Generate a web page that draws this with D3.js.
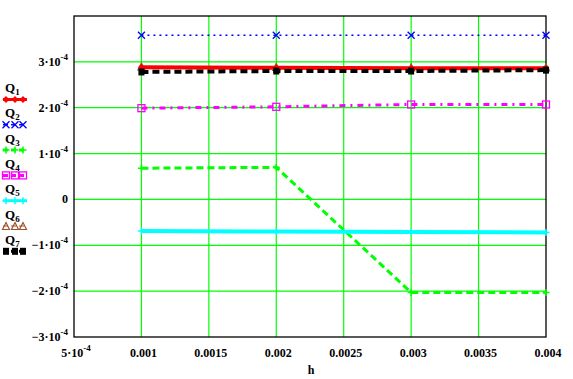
<!DOCTYPE html>
<html><head><meta charset="utf-8">
<script src="https://cdn.jsdelivr.net/npm/d3@7"></script>
<style>body{margin:0;background:#fff}text{font-family:"Liberation Serif",serif;font-weight:bold;fill:#000}</style>
</head><body><svg id="c" width="573" height="379"></svg>
<script>
// ---- data ----
const hValues = [0.001, 0.002, 0.003, 0.004];
const Q1 = [2.88e-4, 2.87e-4, 2.86e-4, 2.86e-4];
const Q2 = [3.58e-4, 3.58e-4, 3.58e-4, 3.58e-4];
const Q3 = [0.68e-4, 0.70e-4, -2.03e-4, -2.03e-4];
const Q4 = [1.99e-4, 2.02e-4, 2.07e-4, 2.07e-4];
const Q5 = [-0.69e-4, -0.70e-4, -0.71e-4, -0.72e-4];
const Q6 = [2.90e-4, 2.89e-4, 2.88e-4, 2.88e-4];
const Q7 = [2.78e-4, 2.80e-4, 2.80e-4, 2.82e-4];
const seriesNames = ["1","2","3","4","5","6","7"];
const xTickValues = [0.0005, 0.001, 0.0015, 0.002, 0.0025, 0.003, 0.0035, 0.004];
const xTickLabels = ["5·10|-4", "0.001", "0.0015", "0.002", "0.0025", "0.003", "0.0035", "0.004"];
const yTickValues = [3e-4, 2e-4, 1e-4, 0, -1e-4, -2e-4, -3e-4];
const yTickLabels = ["3·10|-4", "2·10|-4", "1·10|-4", "0", "−1·10|-4", "−2·10|-4", "−3·10|-4"];
const xLabel = "h";

// ---- styles ----
const styles = [
  {data: Q1, color: "#ff0000", width: 4, dash: null, marker: "diamond"},
  {data: Q2, color: "#0000ff", width: 1.5, dash: "2,4", marker: "x"},
  {data: Q3, color: "#00ff00", width: 3, dash: "7,4", marker: "plus"},
  {data: Q4, color: "#ff00ff", width: 3, dash: "6,5,2,5", marker: "square"},
  {data: Q5, color: "#00ffff", width: 4, dash: null, marker: "plus"},
  {data: Q6, color: "#a0522d", width: 1, dash: "1,3", marker: "triangle"},
  {data: Q7, color: "#000000", width: 4, dash: "7,4", marker: "fsquare"}
];
const drawOrder = [5, 0, 1, 2, 3, 4, 6];

const svg = d3.select("#c");
const L = 74, R = 546, T = 16, B = 337;
const x = d3.scaleLinear().domain([0.0005, 0.004]).range([L, R]);
const y = d3.scaleLinear().domain([-3e-4, 4e-4]).range([B, T]);

// grid
const g = svg.append("g");
g.selectAll(".vg").data(xTickValues.slice(1, -1)).enter().append("line")
  .attr("x1", d => x(d)).attr("x2", d => x(d)).attr("y1", T).attr("y2", B)
  .attr("stroke", "#00ff00").attr("stroke-width", 1.2);
g.selectAll(".hg").data(yTickValues.slice(0, -1)).enter().append("line")
  .attr("x1", L).attr("x2", R).attr("y1", d => y(d)).attr("y2", d => y(d))
  .attr("stroke", "#00ff00").attr("stroke-width", 1.2);

// frame
svg.append("rect").attr("x", L).attr("y", T).attr("width", R - L).attr("height", B - T)
  .attr("fill", "none").attr("stroke", "#000").attr("stroke-width", 1.3);

function drawLabel(sel, str, xp, yp, anchor) {
  const parts = str.split("|");
  const t = sel.append("text").attr("x", xp).attr("y", yp).attr("font-size", 12).attr("text-anchor", anchor);
  t.append("tspan").text(parts[0]);
  if (parts[1]) t.append("tspan").attr("dy", -6).attr("font-size", 9).text(parts[1]);
  return t;
}
// y tick labels
yTickValues.forEach((v, i) => drawLabel(svg, yTickLabels[i], 68, y(v) + 4, "end"));
// x tick labels
xTickValues.forEach((v, i) => drawLabel(svg, xTickLabels[i], x(v) + 2, 357, "middle"));
svg.append("text").attr("x", 311).attr("y", 374).attr("font-size", 12).attr("text-anchor", "middle").text(xLabel);

function marker(sel, type, cx, cy, color) {
  const s = 3.5;
  if (type === "diamond") sel.append("path").attr("d", `M${cx},${cy-s}L${cx+s},${cy}L${cx},${cy+s}L${cx-s},${cy}Z`).attr("fill", color);
  else if (type === "x") sel.append("path").attr("d", `M${cx-s},${cy-s}L${cx+s},${cy+s}M${cx-s},${cy+s}L${cx+s},${cy-s}`).attr("stroke", color).attr("stroke-width", 1.3);
  else if (type === "plus") sel.append("path").attr("d", `M${cx-s},${cy}L${cx+s},${cy}M${cx},${cy-s}L${cx},${cy+s}`).attr("stroke", color).attr("stroke-width", 1.5);
  else if (type === "square") sel.append("rect").attr("x", cx-s).attr("y", cy-s).attr("width", 2*s).attr("height", 2*s).attr("fill", "none").attr("stroke", color).attr("stroke-width", 1.3);
  else if (type === "triangle") sel.append("path").attr("d", `M${cx},${cy-s}L${cx+s},${cy+s}L${cx-s},${cy+s}Z`).attr("fill", "none").attr("stroke", color).attr("stroke-width", 1.2);
  else if (type === "fsquare") sel.append("rect").attr("x", cx-3).attr("y", cy-3.5).attr("width", 6).attr("height", 7).attr("fill", color);
}

const line = d3.line().x((d, i) => x(hValues[i])).y(d => y(d));
drawOrder.forEach(k => {
  const st = styles[k];
  const gg = svg.append("g");
  gg.append("path").attr("d", line(st.data)).attr("fill", "none").attr("stroke", st.color)
    .attr("stroke-width", st.width).attr("stroke-dasharray", st.dash);
  st.data.forEach((v, i) => marker(gg, st.marker, x(hValues[i]), y(v), st.color));
});

// legend
styles.forEach((st, k) => {
  const ly = 92 + k * 25.3;
  const t = svg.append("text").attr("x", 5).attr("y", ly).attr("font-size", 13);
  t.append("tspan").text("Q");
  t.append("tspan").attr("dy", 3).attr("font-size", 9).text(seriesNames[k]);
  const sy = ly + 7.5;
  const lg = svg.append("g");
  lg.append("line").attr("x1", 3).attr("x2", 27).attr("y1", sy).attr("y2", sy).attr("stroke", st.color)
    .attr("stroke-width", Math.min(st.width, 3)).attr("stroke-dasharray", st.dash ? "5,3" : null);
  [6, 15, 23].forEach(px => marker(lg, st.marker, px, sy, st.color));
});
</script></body></html>
